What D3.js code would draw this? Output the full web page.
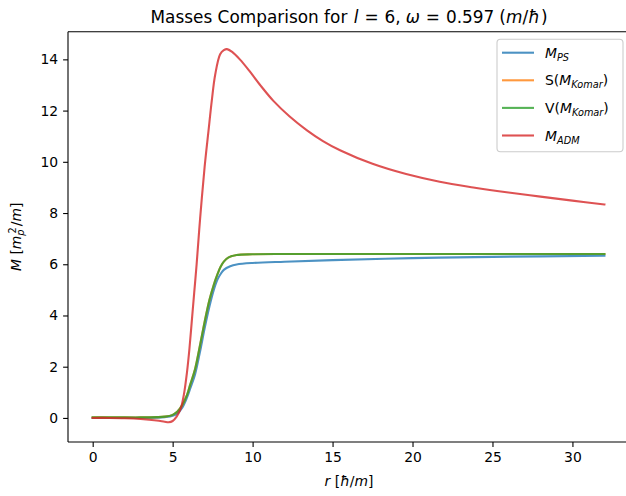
<!DOCTYPE html>
<html>
<head>
<meta charset="utf-8">
<script src="https://cdn.jsdelivr.net/npm/d3@7"></script>
<style>
  body { margin: 0; background: #fff; }
  svg { display: block; font-family: "DejaVu Sans", sans-serif; }
</style>
</head>
<body>
<svg id="chart" width="626" height="496"></svg>
<script>
// Radius samples (units of ħ/m) and the mass curves evaluated there
const rPS     = [0, 2, 4, 4.5, 5, 5.3, 5.6, 5.9, 6.1, 6.4, 6.7, 7.0, 7.3, 7.55, 7.8, 8.0, 8.2, 8.6, 9.0, 10, 12, 15, 20, 25, 32];
const massPS  = [0, 0.0, 0.01, 0.03, 0.08, 0.18, 0.4, 0.8, 1.15, 1.7, 2.55, 3.5, 4.35, 4.95, 5.4, 5.62, 5.78, 5.92, 5.99, 6.05, 6.1, 6.16, 6.24, 6.29, 6.33];

const rKomar     = [0, 2, 3, 4, 4.5, 5.0, 5.3, 5.6, 5.9, 6.1, 6.4, 6.7, 7.0, 7.3, 7.55, 7.8, 8.0, 8.2, 8.5, 9.0, 10, 12, 20, 32];
const massKomarS = [0.02, 0.02, 0.02, 0.03, 0.05, 0.12, 0.25, 0.5, 0.9, 1.3, 1.9, 2.8, 3.75, 4.6, 5.15, 5.6, 5.9, 6.1, 6.27, 6.36, 6.39, 6.4, 6.4, 6.4];
const massKomarV = [0.02, 0.02, 0.02, 0.03, 0.05, 0.12, 0.25, 0.5, 0.9, 1.3, 1.9, 2.8, 3.75, 4.6, 5.15, 5.6, 5.9, 6.1, 6.27, 6.36, 6.39, 6.4, 6.4, 6.4];

const rADM    = [0, 1, 2, 3, 4, 4.5, 4.75, 5.0, 5.25, 5.5, 5.7, 5.9, 6.05, 6.2, 6.35, 6.5, 6.72, 7.0, 7.24, 7.45, 7.66, 7.97, 8.2, 8.4, 8.7, 9.2, 9.8, 10.47, 11.3, 12.3, 13.4, 14.4, 15.5, 17.5, 19.6, 21.7, 23.8, 26, 28, 30, 32];
const massADM = [0, 0, -0.01, -0.04, -0.1, -0.15, -0.17, -0.12, 0.05, 0.35, 0.9, 1.8, 2.7, 3.8, 4.9, 6.0, 7.8, 9.8, 11.2, 12.4, 13.4, 14.2, 14.36, 14.4, 14.3, 14.0, 13.55, 13.0, 12.38, 11.78, 11.23, 10.81, 10.44, 9.92, 9.52, 9.22, 9.0, 8.8, 8.64, 8.485, 8.335];

const xTicks = [0, 5, 10, 15, 20, 25, 30];
const yTicks = [0, 2, 4, 6, 8, 10, 12, 14];

const seriesColors = ["#1f77b4", "#ff7f0e", "#2ca02c", "#d62728"];

const series = [
  { r: rPS,    m: massPS,     color: seriesColors[0] },
  { r: rKomar, m: massKomarS, color: seriesColors[1] },
  { r: rKomar, m: massKomarV, color: seriesColors[2] },
  { r: rADM,   m: massADM,    color: seriesColors[3] }
];

const svg = d3.select("#chart");
const plot = { left: 68, right: 630, top: 31.7, bottom: 442 };

const x = d3.scaleLinear().domain([-1.6, 33.6]).range([plot.left - 0.9, plot.right]);
const y = d3.scaleLinear().domain([-0.94, 15.08]).range([plot.bottom, plot.top]);

const fs = 13.9;

// axes
const xAxis = d3.axisBottom(x).tickValues(xTicks).tickSize(4.9).tickPadding(4.9).tickFormat(d3.format("d"));
const yAxis = d3.axisLeft(y).tickValues(yTicks).tickSize(4.9).tickPadding(4.9).tickFormat(d3.format("d"));

const gx = svg.append("g").attr("transform", `translate(0,${plot.bottom})`).call(xAxis);
const gy = svg.append("g").attr("transform", `translate(${plot.left},0)`).call(yAxis);
[gx, gy].forEach(g => {
  g.select(".domain").remove();
  g.selectAll(".tick line").attr("stroke", "#000").attr("stroke-width", 1.1);
  g.selectAll(".tick text").attr("font-size", fs).attr("font-family", "DejaVu Sans").attr("fill", "#000");
});

// lines, clipped to the axes area
svg.append("clipPath").attr("id", "clip").append("rect")
  .attr("x", plot.left).attr("y", plot.top)
  .attr("width", plot.right - plot.left).attr("height", plot.bottom - plot.top);

const line = d3.line().curve(d3.curveCatmullRom.alpha(0.5));
const gLines = svg.append("g").attr("clip-path", "url(#clip)");
series.forEach(s => {
  gLines.append("path")
    .attr("d", line(s.r.map((r, i) => [x(r), y(s.m[i])])))
    .attr("fill", "none")
    .attr("stroke", s.color)
    .attr("stroke-opacity", 0.8)
    .attr("stroke-width", 2.1)
    .attr("stroke-linejoin", "round")
    .attr("stroke-linecap", "square");
});

// spines
const spine = svg.append("g").attr("stroke", "#000").attr("stroke-width", 1.1).attr("fill", "none");
spine.append("line").attr("x1", plot.left).attr("x2", plot.right).attr("y1", plot.top).attr("y2", plot.top);
spine.append("line").attr("x1", plot.left).attr("x2", plot.right).attr("y1", plot.bottom).attr("y2", plot.bottom);
spine.append("line").attr("x1", plot.left).attr("x2", plot.left).attr("y1", plot.top).attr("y2", plot.bottom);
spine.append("line").attr("x1", plot.right).attr("x2", plot.right).attr("y1", plot.top).attr("y2", plot.bottom);

// helper for mixed upright / italic / sub / superscript runs
function rich(textSel, parts) {
  parts.forEach(p => {
    const t = textSel.append("tspan").text(p.t);
    if (p.i) t.attr("font-style", "italic");
    if (p.sub) t.attr("font-size", p.size || "70%").attr("baseline-shift", p.sub);
    if (p.dx) t.attr("dx", p.dx);
  });
}

// title
const title = svg.append("text")
  .attr("x", (plot.left + plot.right) / 2).attr("y", 23.4)
  .attr("text-anchor", "middle").attr("font-size", 16.9).attr("fill", "#000");
rich(title, [
  { t: "Masses Comparison for " },
  { t: "l", i: true, dx: 1 }, { t: "=", dx: 6 }, { t: "6,", dx: 6 },
  { t: "ω", i: true, dx: 5 }, { t: "=", dx: 6 }, { t: "0.597", dx: 6 },
  { t: "(", dx: 5 }, { t: "m", i: true }, { t: "/" }, { t: "ħ", i: true }, { t: ")", dx: 1 }
]);

// x label
const xl = svg.append("text")
  .attr("x", (plot.left + plot.right) / 2).attr("y", 486)
  .attr("text-anchor", "middle").attr("font-size", fs).attr("fill", "#000");
rich(xl, [{ t: "r", i: true }, { t: " [" }, { t: "ħ", i: true }, { t: "/" }, { t: "m", i: true }, { t: "]" }]);

// y label
const yl = svg.append("text")
  .attr("transform", `translate(21,${(plot.top + plot.bottom) / 2}) rotate(-90)`)
  .attr("text-anchor", "middle").attr("font-size", fs).attr("fill", "#000");
rich(yl, [
  { t: "M", i: true }, { t: " [" }, { t: "m", i: true },
  { t: "p", i: true, sub: "-25%" }, { t: "2", sub: "55%", dx: -4 },
  { t: "/", dx: 1 }, { t: "m", i: true }, { t: "]" }
]);

// legend
const legend = svg.append("g");
legend.append("rect")
  .attr("x", 497).attr("y", 39.3).attr("width", 126).attr("height", 112.4)
  .attr("rx", 3.5).attr("fill", "#fff").attr("fill-opacity", 0.8)
  .attr("stroke", "#cccccc").attr("stroke-width", 1.1);

const legendLabels = [
  [{ t: "M", i: true }, { t: "PS", i: true, sub: "-25%" }],
  [{ t: "S(" }, { t: "M", i: true }, { t: "Komar", i: true, sub: "-25%" }, { t: ")" }],
  [{ t: "V(" }, { t: "M", i: true }, { t: "Komar", i: true, sub: "-25%" }, { t: ")" }],
  [{ t: "M", i: true }, { t: "ADM", i: true, sub: "-25%" }]
];
const rowY = [52.7, 80.3, 107.9, 135.5];
series.forEach((s, i) => {
  legend.append("line")
    .attr("x1", 502).attr("x2", 534).attr("y1", rowY[i]).attr("y2", rowY[i])
    .attr("stroke", s.color).attr("stroke-opacity", 0.8).attr("stroke-width", 2.1);
  const t = legend.append("text")
    .attr("x", 545).attr("y", rowY[i] + 5)
    .attr("font-size", fs).attr("fill", "#000");
  rich(t, legendLabels[i]);
});
</script>
</body>
</html>
